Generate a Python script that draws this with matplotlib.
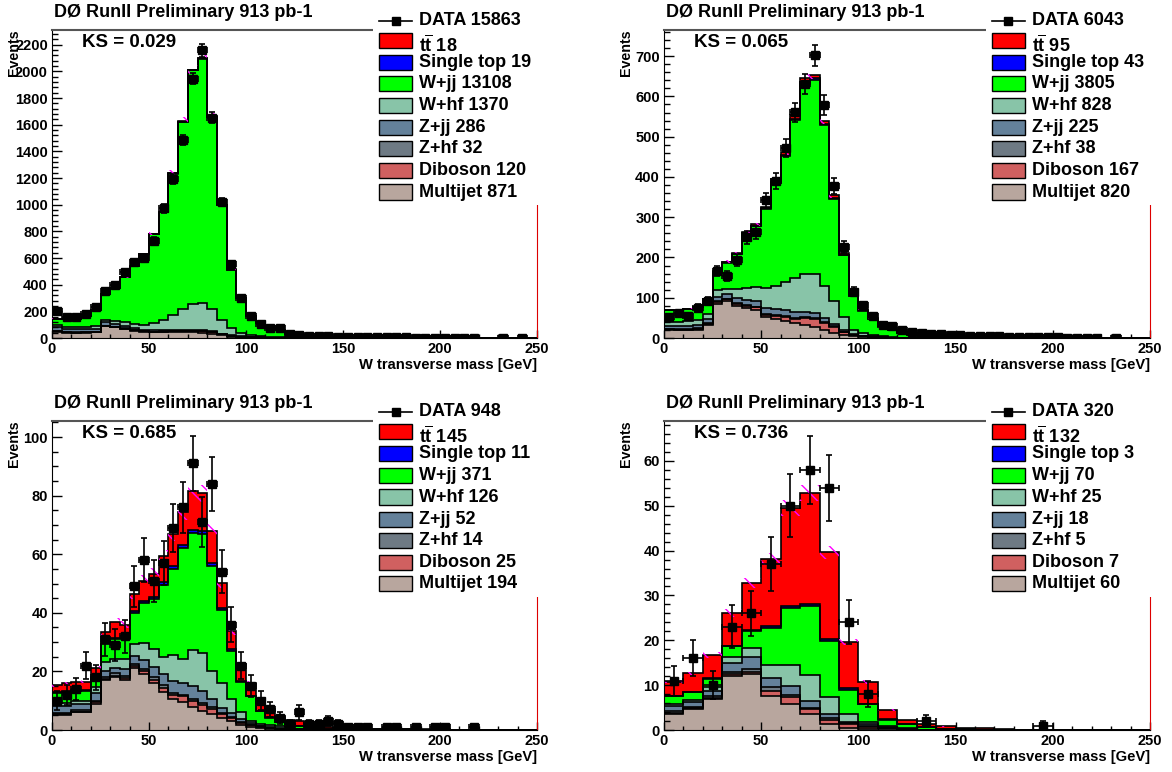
import numpy as np
import matplotlib
matplotlib.use('Agg')
import matplotlib.pyplot as plt
from matplotlib.patches import Rectangle
from matplotlib.lines import Line2D
from matplotlib.ticker import MultipleLocator

plt.rcParams['font.family'] = 'Liberation Sans'
plt.rcParams['font.weight'] = 'bold'
plt.rcParams['mathtext.fontset'] = 'custom'
plt.rcParams['mathtext.bf'] = 'Liberation Sans:bold'
plt.rcParams['mathtext.rm'] = 'Liberation Sans:bold'
plt.rcParams['hatch.linewidth'] = 1.0

# ---- samples, stacked from the bottom up ----
samples = ['Multijet', 'Diboson', 'Z+hf', 'Z+jj', 'W+hf', 'W+jj', 'Single top', 'tt']
colors = ['#b8a69e', '#d06060', '#6e7a84', '#64819a', '#88c4a8', '#00ff00', '#0000ff', '#ff0000']
legend_names = ['DATA', r'$\mathbf{t\overline{t}}$', 'Single top', 'W+jj', 'W+hf',
                'Z+jj', 'Z+hf', 'Diboson', 'Multijet']

# ---- W+2 jets, 5 GeV bins ----
tl_data = [204, 157, 157, 181, 231, 355, 400, 495, 567, 599, 728, 972, 1193, 1484, 1946, 2157,
           1652, 1019, 552, 298, 166, 107, 72, 72, 30, 22, 18, 15, 12, 10, 9, 8, 7, 6, 5, 4, 4,
           3, 3, 3, 2, 2, 2, 1, 0, 0, 1, 0, 1, 0]
tl_mj = [48, 40, 38, 40, 42, 88, 80, 68, 56, 46, 42, 42, 42, 42, 42, 40, 33, 20, 11, 7, 4, 3, 2,
         2, 1, 1, 1, 1, 1] + [0] * 21
tl_dib = [2, 2, 2, 2, 2, 3, 3, 3, 3, 4, 5, 6, 8, 10, 12, 13, 12, 9, 5, 3, 2, 1, 1, 1] + [0] * 26
tl_zhf = [2, 2, 2, 2, 2, 2, 2, 1, 1, 1, 1, 1, 1, 1, 1, 1, 1, 1, 1, 1, 1, 1] + [0] * 28
tl_zjj = [30, 25, 22, 20, 20, 25, 20, 18, 15, 12, 10, 8, 7, 6, 6, 5, 5, 3, 2, 1, 1, 1] + [0] * 28
tl_whf = [15, 15, 15, 18, 25, 20, 25, 30, 32, 35, 55, 80, 115, 155, 195, 205, 170, 100, 55, 22,
          12, 6, 4, 3, 2, 1, 1, 1] + [0] * 22
tl_wjj = [47, 55, 60, 84, 120, 195, 243, 334, 433, 531, 668, 805, 1060, 1407, 1753, 1832, 1435,
          864, 438, 267, 146, 100, 70, 56, 27, 20, 15, 12, 10, 9, 8, 7, 6, 5, 4, 4, 3, 3, 3, 2,
          2, 2, 2, 1, 1, 1, 1, 1, 1, 0]
tl_stop = [0, 0, 0, 0, 0, 0, 0, 0, 1, 1, 1, 1, 1, 2, 2, 2, 2, 1, 1, 1] + [0] * 30
tl_tt = [0, 0, 0, 0, 0, 0, 0, 1, 1, 1, 1, 1, 1, 2, 2, 2, 2, 1, 1, 1] + [0] * 30

# ---- W+3 jets, 5 GeV bins ----
tr_data = [53, 62, 55, 75, 93, 166, 154, 194, 250, 263, 342, 389, 472, 561, 631, 702, 579, 377,
           225, 115, 81, 54, 33, 30, 21, 16, 12, 10, 9, 8, 7, 5, 5, 4, 4, 3, 3, 3, 2, 2, 2, 1, 1,
           1, 1, 0, 1, 0, 0, 0]
tr_mj = [20, 19, 19, 21, 33, 85, 91, 80, 74, 70, 51, 47, 43, 38, 32, 28, 19, 13, 7, 4, 2, 1,
         1] + [0] * 27
tr_dib = [2, 2, 2, 2, 3, 4, 5, 5, 5, 6, 7, 8, 9, 10, 17, 19, 19, 14, 8, 3, 2, 1, 1] + [0] * 27
tr_zhf = [1, 1, 1, 1, 1, 2, 2, 2, 2, 2, 2, 2, 2, 2, 2, 2, 2, 2, 1, 1, 1, 1] + [0] * 28
tr_zjj = [8, 8, 8, 9, 10, 10, 12, 13, 13, 13, 15, 15, 15, 14, 13, 12, 9, 6, 3, 2, 1, 1] + [0] * 28
tr_whf = [9, 10, 11, 12, 13, 19, 12, 22, 30, 36, 48, 58, 71, 86, 96, 99, 81, 57, 34, 10, 6, 3,
          2, 2, 1] + [0] * 25
tr_wjj = [29, 29, 31, 31, 35, 44, 65, 86, 136, 150, 197, 255, 311, 391, 472, 481, 399, 253, 152,
          84, 56, 40, 25, 18, 11, 8, 7, 6, 5, 4, 3, 3, 2, 2, 2, 1, 1, 1, 1, 1, 1] + [0] * 9
tr_stop = [0, 0, 0, 0, 1, 1, 1, 1, 1, 2, 2, 3, 3, 4, 4, 4, 3, 3, 2, 1, 1] + [0] * 29
tr_tt = [1, 1, 1, 1, 1, 2, 2, 2, 3, 3, 4, 6, 7, 8, 9, 9, 8, 6, 5, 3, 2, 2, 1, 1, 1, 1] + [0] * 24

# ---- W+4 jets, 5 GeV bins ----
bl_data = [10, 12, 14, 22, 18, 31, 29, 32, 49, 58, 51, 57, 69, 76, 91, 71, 84, 54, 36, 22, 15,
           10, 7, 4, 2, 6, 2, 2, 3, 2, 1, 1, 1, 0, 1, 1, 0, 1, 0, 1, 1, 0, 0, 1, 0, 0, 0, 0, 0, 0]
bl_mj = [5, 5, 6, 6, 9, 17, 18, 17, 21, 19, 16, 13, 10.5, 9.5, 8, 6.5, 5.5, 4, 3, 1.7, 1.1, 0.7,
         0.5, 0.3, 0.2, 0.2, 0.1, 0.1] + [0] * 22
bl_dib = [0.3, 0.3, 0.3, 0.3, 0.4, 0.5, 0.6, 0.7, 0.8, 1.0, 1.2, 1.5, 1.6, 2.0, 2.0, 2.1, 1.8,
          1.4, 1.0, 0.8, 0.5, 0.4, 0.3, 0.2, 0.1] + [0] * 25
bl_zhf = [0.4, 0.4, 0.4, 0.4, 0.5, 0.6, 0.7, 0.7, 0.8, 0.8, 0.8, 0.7, 0.7, 0.6, 0.6, 0.5, 0.5,
          0.4, 0.3, 0.2, 0.2, 0.1] + [0] * 28
bl_zjj = [2.5, 2.5, 2.2, 2.2, 2.8, 2.0, 2.0, 2.5, 2.5, 3.2, 3.4, 4.0, 4.0, 4.0, 4.5, 4.3, 2.8,
          1.8, 1.5, 1.0, 0.6, 0.3, 0.2, 0.1] + [0] * 26
bl_whf = [1.1, 1.1, 1.1, 1.1, 1.9, 3.1, 3.0, 3.4, 4.4, 5.8, 6.4, 5.7, 8.7, 8.2, 12.1, 12.9, 9.7,
          8.4, 4.8, 2.3, 0.8, 0.7, 0.6, 0.6, 0.7, 0.3, 0.2, 0.2, 0.1] + [0] * 21
bl_wjj = [3.5, 3.8, 3.3, 3.3, 3.1, 6.3, 6.8, 6.8, 10.6, 13.6, 16.8, 24.7, 29.5, 37.9, 40.1, 40.5,
          35.8, 25.0, 16.4, 10.5, 8.3, 4.2, 2.6, 1.6, 0.9, 0.7, 0.6, 0.5, 0.4, 0.4, 0.3, 0.3,
          0.3, 0.2, 0.2, 0.2, 0.2, 0.1, 0.1, 0.1, 0.1, 0.1, 0.1, 0.1, 0.1, 0, 0, 0, 0, 0]
bl_stop = [0.2, 0.2, 0.2, 0.2, 0.3, 0.3, 0.4, 0.4, 0.5, 0.6, 0.7, 0.8, 0.9, 1.0, 1.0, 1.0, 0.9,
           0.7, 0.5, 0.3, 0.2, 0.2, 0.1, 0.1, 0.1, 0.1] + [0] * 24
bl_tt = [2.3, 2.6, 2.8, 3.0, 3.0, 3.6, 5.3, 4.5, 5.8, 7.0, 8.1, 8.9, 10.9, 11.1, 13.4, 13.0, 11.0,
         8.5, 6.2, 5.6, 4.5, 3.3, 2.8, 1.4, 1.4, 1.7, 0.8, 0.6, 0.5, 0.4, 0.3, 0.3, 0.2, 0.2,
         0.2, 0.1, 0.1, 0.1, 0.1, 0.1, 0.1] + [0] * 9

# ---- W+4 jets with b-tag, 10 GeV bins ----
br_data = [11, 16, 10, 23, 26, 37, 50, 58, 54, 24, 8, 0, 0, 2, 0, 0, 0, 0, 0, 1, 0, 0, 0, 0, 0]
br_mj = [3.5, 4.6, 6.9, 12.0, 12.4, 7.6, 5.9, 3.5, 1.3, 0.5, 0.3, 0.2, 0.1] + [0] * 12
br_dib = [0.4, 0.3, 0.3, 0.4, 0.5, 1.1, 1.4, 1.1, 0.9, 0.8, 0.4, 0.2, 0.1] + [0] * 12
br_zhf = [0.3, 0.3, 0.4, 0.5, 0.8, 0.9, 0.6, 0.4, 0.5, 0.2, 0.2, 0.1] + [0] * 13
br_zjj = [1.1, 1.0, 1.1, 2.1, 2.6, 2.1, 2.0, 1.5, 0.8, 0.3, 0.4, 0.2, 0.1] + [0] * 12
br_whf = [0.6, 0.4, 0.9, 1.3, 1.9, 2.7, 4.7, 5.7, 3.8, 1.7, 0.5, 0.3, 0.2, 0.1] + [0] * 11
br_wjj = [1.65, 1.85, 1.8, 2.4, 3.9, 8.4, 12.5, 15.4, 12.5, 5.5, 3.9, 1.3, 0.8, 0.5, 0.3, 0.2,
          0.1, 0.1] + [0] * 7
br_stop = [0.05, 0.05, 0.1, 0.1, 0.2, 0.3, 0.5, 0.6, 0.5, 0.4, 0.2, 0.1] + [0] * 13
br_tt = [3.2, 4.1, 5.2, 7.3, 10.5, 15.0, 21.9, 24.6, 19.3, 10.2, 4.8, 2.1, 0.9, 0.7, 0.5, 0.3,
         0.3, 0.2, 0.1, 0.1, 0.1, 0, 0, 0, 0]

# event counts quoted in the legends (DATA first, then tt, single top, ... multijet)
tl_counts = [15863, 18, 19, 13108, 1370, 286, 32, 120, 871]
tr_counts = [6043, 95, 43, 3805, 828, 225, 38, 167, 820]
bl_counts = [948, 145, 11, 371, 126, 52, 14, 25, 194]
br_counts = [320, 132, 3, 70, 25, 18, 5, 7, 60]

ks_values = ['0.029', '0.065', '0.685', '0.736']

panels = [
    # rect, bin width, data, stack, counts, ymax, major, minor, syst
    ([52, 338, 485, 308], 5, tl_data,
     [tl_mj, tl_dib, tl_zhf, tl_zjj, tl_whf, tl_wjj, tl_stop, tl_tt], tl_counts, 2310, 200, 40, 0.018),
    ([664, 338, 486, 308], 5, tr_data,
     [tr_mj, tr_dib, tr_zhf, tr_zjj, tr_whf, tr_wjj, tr_stop, tr_tt], tr_counts, 765, 100, 20, 0.015),
    ([52, 730, 485, 309], 5, bl_data,
     [bl_mj, bl_dib, bl_zhf, bl_zjj, bl_whf, bl_wjj, bl_stop, bl_tt], bl_counts, 105.5, 20, 5, 0.035),
    ([664, 730, 486, 309], 10, br_data,
     [br_mj, br_dib, br_zhf, br_zjj, br_whf, br_wjj, br_stop, br_tt], br_counts, 68.9, 10, 2, 0.035),
]

W, H = 1172, 772
fig = plt.figure(figsize=(W / 100, H / 100), dpi=100)

# legend geometry in axes fractions
box_x, box_w, box_h = 0.675, 0.067, 0.049
text_x = 0.757
row_y = [1.030, 0.965, 0.894, 0.825, 0.754, 0.682, 0.614, 0.543, 0.474]

for i, (rect, bw, data, stack, counts, ymax, major, minor, syst) in enumerate(panels):
    x0, y0, w, h = rect
    ax = fig.add_axes([x0 / W, 1 - y0 / H, w / W, h / H])

    edges = np.arange(0, 250 + bw, bw)
    centers = edges[:-1] + bw / 2

    # stacked backgrounds
    base = np.zeros(len(edges) - 1)
    tops = []
    for vals, c in zip(stack, colors):
        top = base + np.array(vals, dtype=float)
        ax.stairs(top, edges, baseline=base, fill=True, facecolor=c, edgecolor='none', zorder=1)
        tops.append(top)
        base = top
    for top in tops:
        ax.stairs(top, edges, color='black', lw=1.2, zorder=2)

    # systematic band
    total = tops[-1]
    ax.stairs(total * (1 + syst), edges, baseline=total * (1 - syst), fill=True,
              facecolor='none', edgecolor='#ff00ff', hatch=r'\\', lw=0, zorder=3)

    # data
    d = np.array(data, dtype=float)
    m = d > 0
    ax.errorbar(centers[m], d[m], yerr=np.sqrt(d[m]), xerr=bw / 2, fmt='s', color='black',
                ms=5.5, elinewidth=1.2, capsize=2, capthick=1.2, zorder=4)

    ax.set_xlim(0, 250)
    ax.set_ylim(0, ymax)
    ax.xaxis.set_major_locator(MultipleLocator(50))
    ax.xaxis.set_minor_locator(MultipleLocator(10))
    ax.yaxis.set_major_locator(MultipleLocator(major))
    ax.yaxis.set_minor_locator(MultipleLocator(minor))
    ax.tick_params(which='both', direction='in', top=False, right=False, labelsize=10.5, pad=3)
    ax.tick_params(axis='y', which='major', length=7, width=1)
    ax.tick_params(axis='y', which='minor', length=4, width=1)
    ax.tick_params(axis='x', which='major', length=6, width=1)
    ax.tick_params(axis='x', which='minor', length=3, width=1)
    ax.spines['top'].set_color('#555555')
    ax.spines['top'].set_linewidth(1.5)
    ax.spines['right'].set_color('#dd0000')

    ax.text(0.005, 1.058, 'DØ RunII Preliminary 913 pb-1', transform=ax.transAxes,
            fontsize=13, va='center', ha='left')
    ax.text(0.062, 0.961, 'KS = ' + ks_values[i], transform=ax.transAxes,
            fontsize=13.5, va='center', ha='left', zorder=6)
    ax.text(1.0, -0.088, 'W transverse mass [GeV]', transform=ax.transAxes,
            fontsize=10.6, va='center', ha='right')
    ax.text(-0.078, 1.003, 'Events', transform=ax.transAxes, rotation=90,
            fontsize=10.3, va='top', ha='center')

    # legend
    ax.add_patch(Rectangle((0.662, 0.432), 0.4, 0.7, transform=ax.transAxes,
                           facecolor='white', edgecolor='none', clip_on=False, zorder=5))
    ax.add_line(Line2D([box_x, box_x + box_w], [row_y[0]] * 2, transform=ax.transAxes,
                       color='black', lw=1.2, clip_on=False, zorder=6))
    ax.add_line(Line2D([box_x + box_w / 2], [row_y[0]], transform=ax.transAxes, marker='s',
                       ms=5.5, color='black', clip_on=False, zorder=6))
    ax.text(text_x, row_y[0], '%s %d' % (legend_names[0], counts[0]), transform=ax.transAxes,
            fontsize=13, va='center', ha='left', zorder=6)
    for k in range(1, 9):
        c = colors[8 - k]
        ax.add_patch(Rectangle((box_x, row_y[k] - box_h / 2), box_w, box_h,
                               transform=ax.transAxes, facecolor=c, edgecolor='black',
                               lw=1, clip_on=False, zorder=6))
        ty = row_y[k] - (0.015 if k == 1 else 0)
        ax.text(text_x, ty, '%s %d' % (legend_names[k], counts[k]), transform=ax.transAxes,
                fontsize=13, va='center', ha='left', zorder=6)

fig.savefig('out.png', dpi=100, facecolor='white')
